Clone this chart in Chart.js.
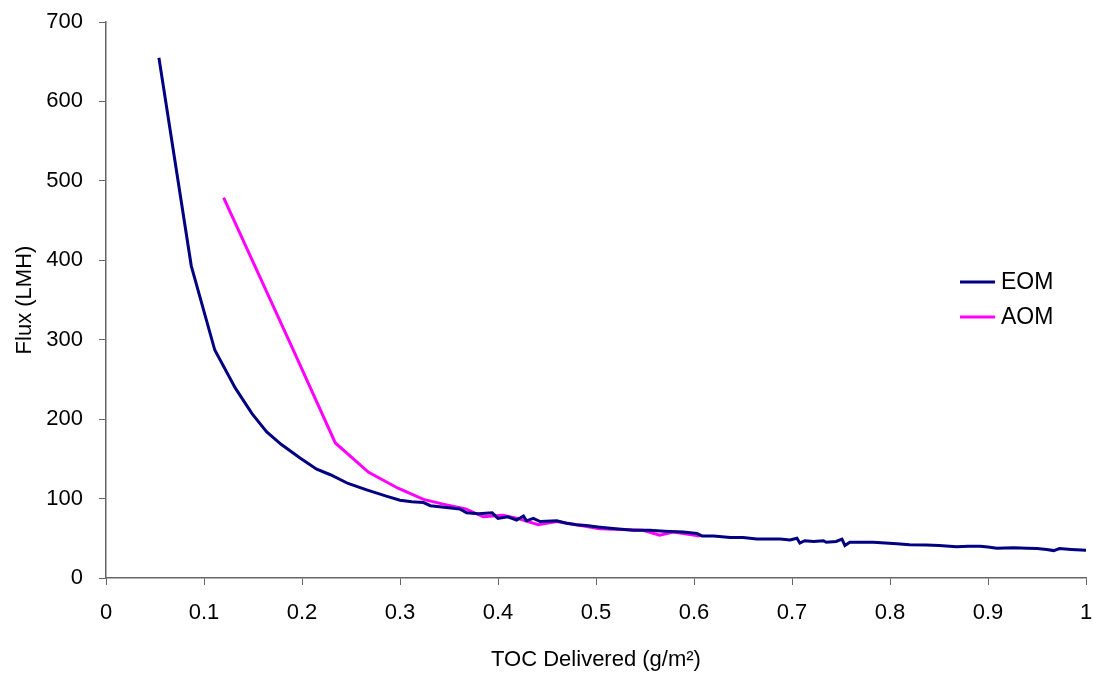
<!DOCTYPE html>
<html><head><meta charset="utf-8">
<script src="https://cdn.jsdelivr.net/npm/chart.js@4/dist/chart.umd.min.js"></script>
<style>html,body{margin:0;padding:0;background:#fff}#wrap{width:1104px;height:679px;position:relative}</style>
</head><body><div id="wrap"><canvas id="c" width="1104" height="679"></canvas></div>
<script>
const xTicks = [0,0.1,0.2,0.3,0.4,0.5,0.6,0.7,0.8,0.9,1];
const yTicks = [0,100,200,300,400,500,600,700];
const seriesNames = ['EOM','AOM'];
const eomX = [0.054,0.087,0.111,0.132,0.149,0.164,0.179,0.198,0.215,0.229,0.247,0.266,0.286,0.300,0.312,0.324,0.331,0.345,0.361,0.368,0.38,0.394,0.4,0.41,0.419,0.426,0.429,0.436,0.443,0.46,0.47,0.48,0.49,0.504,0.52,0.538,0.555,0.57,0.589,0.603,0.608,0.62,0.637,0.65,0.664,0.675,0.688,0.698,0.705,0.708,0.713,0.722,0.732,0.735,0.745,0.751,0.754,0.759,0.77,0.783,0.795,0.807,0.82,0.837,0.85,0.868,0.88,0.892,0.9,0.909,0.926,0.94,0.95,0.96,0.967,0.973,0.985,1.0];
const eomY = [655,393,287,239,207,184,168,151,137,130,119,111,103,98,96,95,91,89,87,82,81,82,75,77,73,78,72,75,71,72,69,67,66,64,62,60,60,59,58,56,53,53,51,51,49,49,49,48,50,44,47,46,47,45,46,49,41,45,45,45,44,43,42,41.5,41,39.5,40,40,39,37.5,38,37.5,37,36,34.5,37,36,35];
const aomX = [0.12,0.19,0.234,0.268,0.298,0.324,0.344,0.367,0.385,0.405,0.42,0.441,0.46,0.48,0.504,0.548,0.565,0.579,0.606];
const aomY = [479,290,170,133,113,99,93,87,77,79,75,67,71,67,62,60,54,58,53];

const toPts = (xs, ys) => xs.map((x, i) => ({x: x, y: ys[i]}));
const FONT = 'Liberation Sans, Arial, sans-serif';
const colors = ['#000080', '#FF00FF'];

const legendPlugin = {
  id: 'inlineLegend',
  afterDraw(chart) {
    const ctx = chart.ctx;
    const items = [{y: 282}, {y: 317}];
    ctx.save();
    items.forEach((it, i) => {
      ctx.strokeStyle = colors[i];
      ctx.lineWidth = 3;
      ctx.beginPath();
      ctx.moveTo(960, it.y);
      ctx.lineTo(995, it.y);
      ctx.stroke();
      ctx.fillStyle = '#000';
      ctx.font = '23px ' + FONT;
      ctx.textBaseline = 'middle';
      ctx.textAlign = 'left';
      ctx.fillText(seriesNames[i], 1001, it.y + 1);
    });
    ctx.restore();
  }
};

new Chart(document.getElementById('c'), {
  type: 'line',
  data: {
    datasets: [
      {label: seriesNames[0], data: toPts(eomX, eomY), borderColor: colors[0], borderWidth: 3, pointRadius: 0, tension: 0, fill: false},
      {label: seriesNames[1], data: toPts(aomX, aomY), borderColor: colors[1], borderWidth: 3, pointRadius: 0, tension: 0, fill: false}
    ]
  },
  options: {
    responsive: false,
    animation: false,
    layout: {padding: {left: 0, right: 18, top: 22, bottom: 0}},
    plugins: {legend: {display: false}, tooltip: {enabled: false}},
    scales: {
      x: {
        type: 'linear', min: 0, max: 1,
        afterBuildTicks: s => { s.ticks = xTicks.map(v => ({value: v})); },
        afterFit: s => { s.height = 101; s.paddingLeft = 0; s.paddingRight = 0; },
        ticks: {color: '#000', font: {family: FONT, size: 22}, padding: 15, maxRotation: 0,
                callback: v => String(Math.round(v * 10) / 10)},
        grid: {drawOnChartArea: false, drawTicks: true, tickLength: 7, color: '#666'},
        border: {display: true, color: '#666', width: 1.5},
        title: {display: true, text: 'TOC Delivered (g/m²)', color: '#000', font: {family: FONT, size: 22}, padding: {top: 0, bottom: 6}}
      },
      y: {
        type: 'linear', min: 0, max: 700,
        afterBuildTicks: s => { s.ticks = yTicks.map(v => ({value: v})); },
        afterFit: s => { s.width = 106; s.paddingTop = 0; s.paddingBottom = 0; },
        ticks: {color: '#000', font: {family: FONT, size: 22}, padding: 16},
        grid: {drawOnChartArea: false, drawTicks: true, tickLength: 7, color: '#666'},
        border: {display: true, color: '#666', width: 1.5},
        title: {display: true, text: 'Flux (LMH)', color: '#000', font: {family: FONT, size: 22}, padding: {top: 12, bottom: 0}}
      }
    }
  },
  plugins: [legendPlugin]
});
</script></body></html>
